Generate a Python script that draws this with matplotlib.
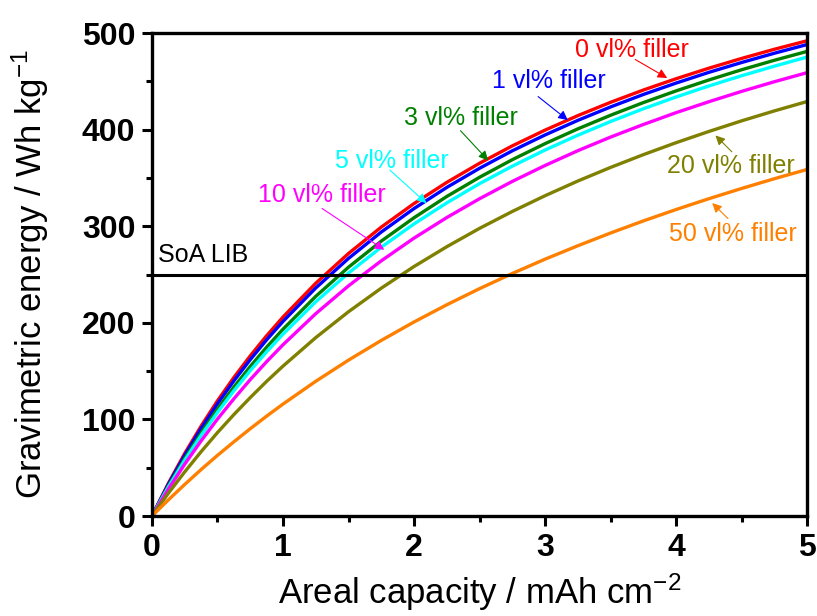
import numpy as np
import matplotlib
matplotlib.use("Agg")
import matplotlib.pyplot as plt

plt.rcParams['font.family'] = ['Liberation Sans', 'DejaVu Sans']
plt.rcParams['mathtext.fontset'] = 'custom'
plt.rcParams['mathtext.rm'] = 'Liberation Sans'
plt.rcParams['mathtext.it'] = 'Liberation Sans:italic'
plt.rcParams['mathtext.bf'] = 'Liberation Sans:bold'

# areal capacity (mAh cm-2)
cap = [0, 0.125, 0.25, 0.375, 0.5, 0.625, 0.75, 0.875, 1, 1.25, 1.5, 1.75, 2, 2.25,
       2.5, 2.75, 3, 3.25, 3.5, 3.75, 4, 4.25, 4.5, 4.75, 5]

# gravimetric energy (Wh/kg)
e0 = [0, 33.8, 64.8, 93.1, 119.3, 143.4, 165.8, 186.6, 206.0, 241.0, 271.8, 299.1, 323.5, 345.4,
      365.2, 383.2, 399.5, 414.5, 428.3, 441.0, 452.7, 463.6, 473.7, 483.2, 492.0]
e1 = [0, 32.8, 62.9, 90.6, 116.2, 139.9, 161.9, 182.4, 201.5, 236.1, 266.7, 294.0, 318.3, 340.2,
      360.0, 378.1, 394.5, 409.6, 423.5, 436.4, 448.2, 459.3, 469.5, 479.1, 488.1]
e3 = [0, 31.0, 59.7, 86.1, 110.7, 133.5, 154.8, 174.8, 193.4, 227.4, 257.6, 284.6, 308.8, 330.8,
      350.7, 368.9, 385.5, 400.8, 414.9, 428.0, 440.1, 451.4, 462.0, 471.8, 481.0]
e5 = [0, 30.0, 57.7, 83.4, 107.3, 129.6, 150.5, 170.0, 188.3, 221.8, 251.6, 278.3, 302.4, 324.2,
      344.1, 362.2, 378.9, 394.2, 408.4, 421.6, 433.8, 445.2, 455.8, 465.7, 475.1]
e10 = [0, 27.8, 53.7, 77.8, 100.4, 121.4, 141.2, 159.8, 177.3, 209.5, 238.3, 264.2, 287.7, 309.0,
       328.5, 346.4, 362.9, 378.2, 392.3, 405.3, 417.6, 428.9, 439.6, 449.6, 459.0]
e20 = [0, 23.6, 45.7, 66.6, 86.4, 105.0, 122.6, 139.4, 155.2, 184.7, 211.5, 235.9, 258.3, 278.8,
       297.8, 315.3, 331.6, 346.8, 360.9, 374.1, 386.5, 398.1, 409.1, 419.4, 429.1]
e50 = [0, 16.7, 32.7, 48.1, 62.8, 76.8, 90.4, 103.4, 115.9, 139.5, 161.4, 181.8, 200.9, 218.7,
       235.4, 251.1, 265.9, 279.8, 293.0, 305.5, 317.3, 328.5, 339.1, 349.2, 358.8]

series = [e0, e1, e3, e5, e10, e20, e50]
labels = ["0 vl% filler", "1 vl% filler", "3 vl% filler", "5 vl% filler",
          "10 vl% filler", "20 vl% filler", "50 vl% filler"]
colors = ["#FF0000", "#0000FF", "#008000", "#00FFFF", "#FF00FF", "#808000", "#FF8000"]

soa_lib = 250

# label position, arrow tail, arrow head (data coords)
text_pos = [(3.66, 482), (3.03, 450), (2.36, 412), (1.83, 368), (1.30, 332), (4.42, 362), (4.43, 292)]
arrow_from = [(3.67, 474), (2.93, 436), (2.34, 401), (1.80, 360), (1.28, 320), (4.44, 375), (4.41, 306)]
arrow_to = [(3.95, 452), (3.19, 408), (2.58, 366), (2.11, 322), (1.79, 274), (4.285, 396), (4.26, 326)]

fig = plt.figure(figsize=(8.17, 6.16), dpi=100)
ax = fig.add_axes([0.186, 0.1623, 0.802, 0.7841])

for y, c in zip(series, colors):
    ax.plot(cap, y, color=c, lw=2.4)

ax.axhline(soa_lib, color="black", lw=2.2)
ax.text(0.045, 270, "SoA LIB", fontsize=18, va="center", ha="left")

for lab, c, tp, af, at in zip(labels, colors, text_pos, arrow_from, arrow_to):
    ax.text(tp[0], tp[1], lab, color=c, fontsize=18, ha="center", va="center")
    ax.annotate("", xy=at, xytext=af,
                arrowprops=dict(arrowstyle="-|>", color=c, lw=0.8, mutation_scale=14))

ax.set_xlim(0, 5)
ax.set_ylim(0, 500)
ax.set_xticks([0, 1, 2, 3, 4, 5])
ax.set_yticks([0, 100, 200, 300, 400, 500])
ax.set_xticks(np.arange(0.5, 5, 1), minor=True)
ax.set_yticks(np.arange(50, 500, 100), minor=True)
ax.tick_params(which="major", direction="out", length=7, width=2.2, labelsize=23, pad=5)
ax.tick_params(which="minor", direction="out", length=4, width=2.2)
for lab in ax.get_xticklabels() + ax.get_yticklabels():
    lab.set_fontweight("bold")
for s in ax.spines.values():
    s.set_linewidth(2.4)

ax.set_xlabel(r"Areal capacity / mAh cm$^{-2}$", fontsize=25, labelpad=6)
ax.set_ylabel(r"Gravimetric energy / Wh kg$^{-1}$", fontsize=25, labelpad=22)

fig.savefig("out.png", dpi=100)
